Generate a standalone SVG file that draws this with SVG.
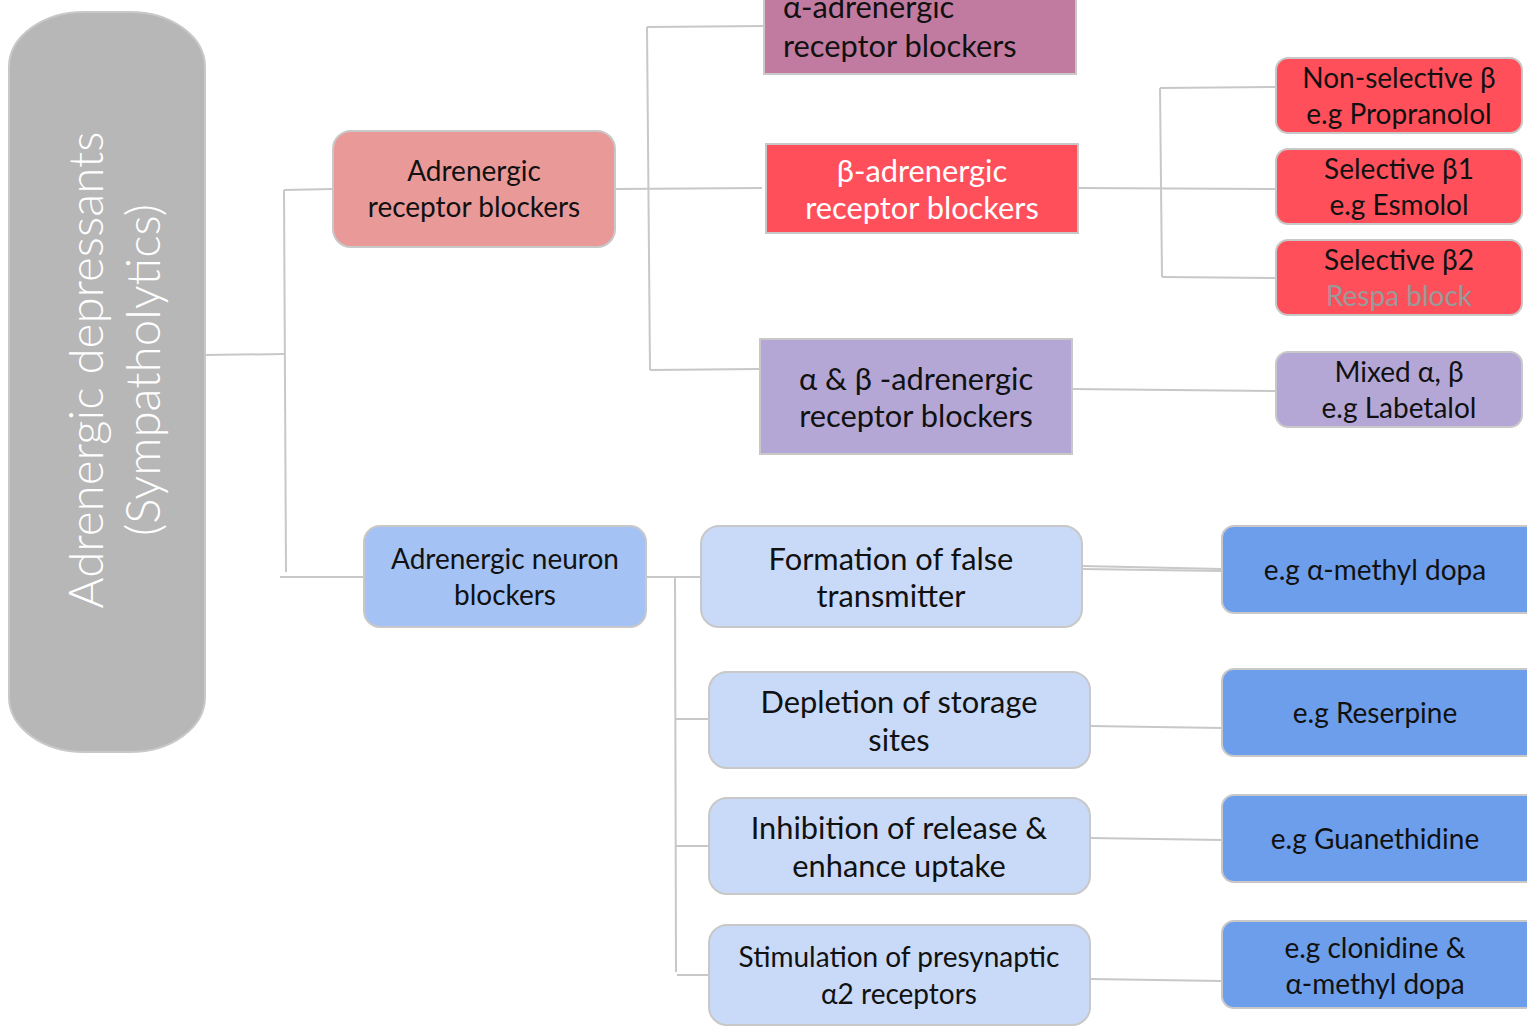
<svg xmlns="http://www.w3.org/2000/svg" width="1527" height="1026" viewBox="0 0 1527 1026">
<style>
text{font-family:Lato,"Open Sans","Noto Sans",sans-serif;text-anchor:middle;fill:#111}
.c{fill:none;stroke:#c8c8c8;stroke-width:2}
.n{stroke:#c8c8c8;stroke-width:2}
.t30{font-size:30.8px}
.t28{font-size:28px}
.w{fill:#fff}
</style>
<rect width="1527" height="1026" fill="#fff"/>
<g id="connectors">
<polyline class="c" points="205,355 284,354"/>
<polyline class="c" points="284,190 286,572"/>
<polyline class="c" points="284,190 333,189"/>
<polyline class="c" points="280,577 365,577"/>
<polyline class="c" points="615,189 762,188"/>
<polyline class="c" points="647,27 650,370"/>
<polyline class="c" points="647,27 764,26"/>
<polyline class="c" points="650,370 760,369"/>
<polyline class="c" points="1078,188 1276,189"/>
<polyline class="c" points="1160,88 1162,277"/>
<polyline class="c" points="1160,88 1276,87"/>
<polyline class="c" points="1162,277 1276,278"/>
<polyline class="c" points="1072,389 1276,391"/>
<polyline class="c" points="646,577 701,577"/>
<polyline class="c" points="675,577 676,972"/>
<polyline class="c" points="675,719 709,719"/>
<polyline class="c" points="676,846 709,846"/>
<polyline class="c" points="677,975 709,975"/>
<polyline class="c" points="1082,566 1222,569"/>
<polyline class="c" points="1082,569 1222,571"/>
<polyline class="c" points="1090,726 1222,728"/>
<polyline class="c" points="1090,838 1222,840"/>
<polyline class="c" points="1090,979 1222,981"/>
</g>
<g id="root">
<rect class="n" x="9" y="12" width="196" height="740" rx="75" ry="55" fill="#b7b7b7"/>
<text transform="translate(104,370) rotate(-90)" style="font-size:47.5px;font-weight:300;fill:#fff"><tspan x="0" y="-1">Adrenergic depressants</tspan><tspan x="0" y="56">(Sympatholytics)</tspan></text>
</g>
<g id="adrenergic-receptor-blockers">
<rect class="n" x="333" y="131" width="282" height="116" rx="18" fill="#ea9999"/>
<text class="t28" x="474" y="181">Adrenergic</text>
<text class="t28" x="474" y="217">receptor blockers</text>
</g>
<g id="alpha-blockers">
<rect class="n" x="764" y="-20" width="312" height="94" fill="#c27ba0"/>
<text class="t30" x="783" y="18" style="text-anchor:start">α-adrenergic</text>
<text class="t30" x="783" y="57" style="text-anchor:start">receptor blockers</text>
</g>
<g id="beta-blockers">
<rect class="n" x="766" y="144" width="312" height="89" fill="#ff4f5b"/>
<text class="t30 w" x="922" y="182">β-adrenergic</text>
<text class="t30 w" x="922" y="219">receptor blockers</text>
</g>
<g id="alpha-beta-blockers">
<rect class="n" x="760" y="339" width="312" height="115" fill="#b4a7d6"/>
<text class="t30" x="916" y="390">α &amp; β -adrenergic</text>
<text class="t30" x="916" y="427">receptor blockers</text>
</g>
<g id="non-selective">
<rect class="n" x="1276" y="58" width="246" height="75" rx="12" fill="#ff4f5b"/>
<text class="t28" x="1399" y="88">Non-selective β</text>
<text class="t28" x="1399" y="124">e.g Propranolol</text>
</g>
<g id="selective-b1">
<rect class="n" x="1276" y="149" width="246" height="75" rx="12" fill="#ff4f5b"/>
<text class="t28" x="1399" y="179">Selective β1</text>
<text class="t28" x="1399" y="215">e.g Esmolol</text>
</g>
<g id="selective-b2">
<rect class="n" x="1276" y="240" width="246" height="75" rx="12" fill="#ff4f5b"/>
<text class="t28" x="1399" y="270">Selective β2</text>
<text class="t28" x="1399" y="306" style="fill:#9a9a9a">Respa block</text>
</g>
<g id="mixed">
<rect class="n" x="1276" y="352" width="246" height="75" rx="12" fill="#b4a7d6"/>
<text class="t28" x="1399" y="382">Mixed α, β</text>
<text class="t28" x="1399" y="418">e.g Labetalol</text>
</g>
<g id="adrenergic-neuron-blockers">
<rect class="n" x="364" y="526" width="282" height="101" rx="16" fill="#a4c2f4"/>
<text class="t28" x="505" y="569">Adrenergic neuron</text>
<text class="t28" x="505" y="605">blockers</text>
</g>
<g id="false-transmitter">
<rect class="n" x="701" y="526" width="381" height="101" rx="18" fill="#c9daf8"/>
<text class="t30" x="891" y="570">Formation of false</text>
<text class="t30" x="891" y="607">transmitter</text>
</g>
<g id="depletion">
<rect class="n" x="709" y="672" width="381" height="96" rx="18" fill="#c9daf8"/>
<text class="t30" x="899" y="713">Depletion of storage</text>
<text class="t30" x="899" y="751">sites</text>
</g>
<g id="inhibition">
<rect class="n" x="709" y="798" width="381" height="96" rx="18" fill="#c9daf8"/>
<text class="t30" x="899" y="839">Inhibition of release &amp;</text>
<text class="t30" x="899" y="877">enhance uptake</text>
</g>
<g id="stimulation">
<rect class="n" x="709" y="925" width="381" height="100" rx="18" fill="#c9daf8"/>
<text class="t28" x="899" y="967">Stimulation of presynaptic</text>
<text class="t28" x="899" y="1004">α2 receptors</text>
</g>
<g id="methyldopa">
<rect class="n" x="1222" y="526" width="320" height="87" rx="12" fill="#6d9eeb"/>
<text class="t28" x="1375" y="580">e.g α-methyl dopa</text>
</g>
<g id="reserpine">
<rect class="n" x="1222" y="669" width="320" height="87" rx="12" fill="#6d9eeb"/>
<text class="t28" x="1375" y="723">e.g Reserpine</text>
</g>
<g id="guanethidine">
<rect class="n" x="1222" y="795" width="320" height="87" rx="12" fill="#6d9eeb"/>
<text class="t28" x="1375" y="849">e.g Guanethidine</text>
</g>
<g id="clonidine">
<rect class="n" x="1222" y="921" width="320" height="87" rx="12" fill="#6d9eeb"/>
<text class="t28" x="1375" y="958">e.g clonidine &amp;</text>
<text class="t28" x="1375" y="994">α-methyl dopa</text>
</g>
</svg>
